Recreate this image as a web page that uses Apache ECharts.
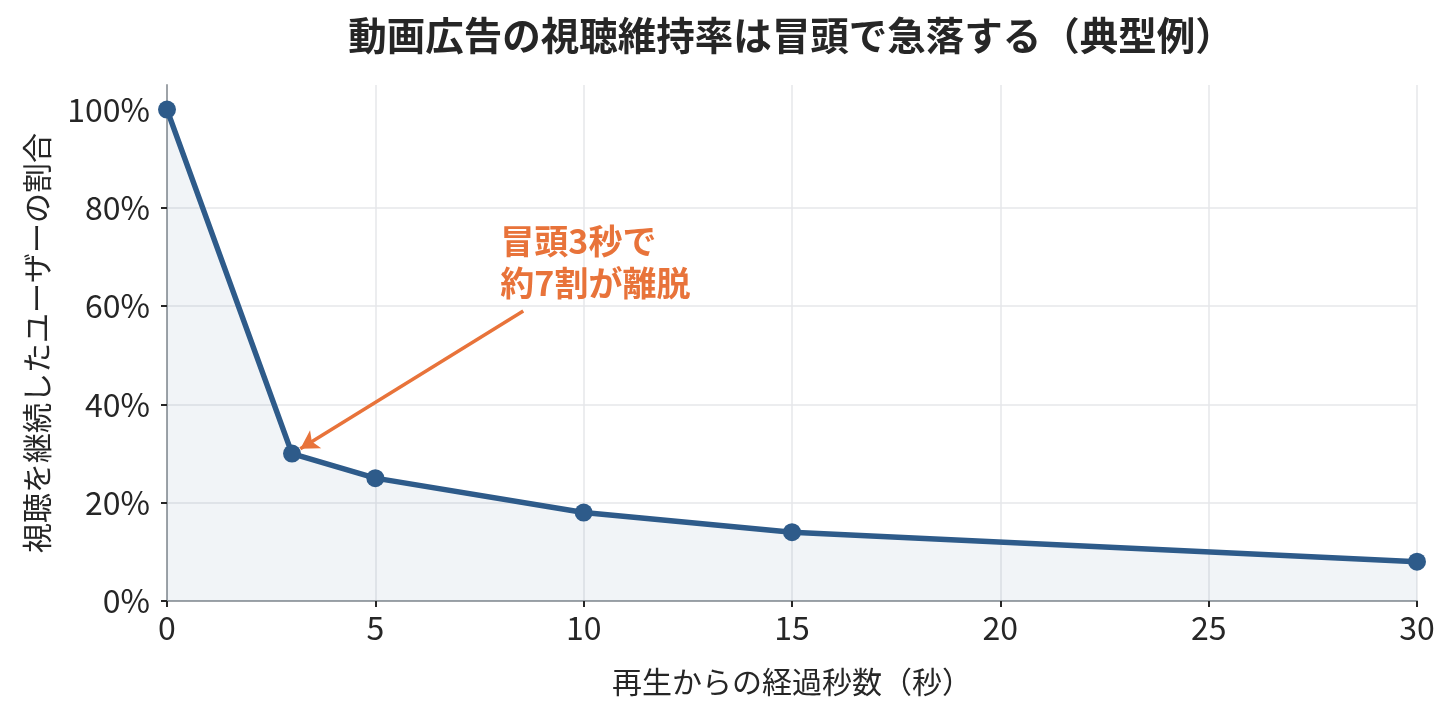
<!DOCTYPE html>
<html><head><meta charset="utf-8">
<script src="https://cdn.jsdelivr.net/npm/echarts@6/dist/echarts.min.js"></script>
<style>html,body{margin:0;padding:0;background:#fff}#c{width:1455px;height:718px}</style>
</head><body><div id="c"></div>
<script>
const seconds = [0, 3, 5, 10, 15, 30];
const retention = [100, 30, 25, 18, 14, 8];
const yTicks = [0, 20, 40, 60, 80, 100];
const xTicks = [0, 5, 10, 15, 20, 25, 30];
const titleText = '動画広告の視聴維持率は冒頭で急落する（典型例）';
const xName = '再生からの経過秒数（秒）';
const yName = '視聴を継続したユーザーの割合';
const noteText = '冒頭3秒で\n約7割が離脱';
const notePos = [8, 69];
const arrowFrom = [8.55, 59];
const arrowTo = [3.2, 31];

const FONT = '"Noto Sans CJK JP", "Noto Sans", sans-serif';
const chart = echarts.init(document.getElementById('c'));
chart.setOption({
  animation: false,
  textStyle: { fontFamily: FONT },
  title: {
    text: titleText, left: 786, top: 11, textAlign: 'center',
    textStyle: { fontFamily: FONT, fontSize: 38.5, fontWeight: 'bold', color: '#262626' }
  },
  grid: { left: 167, right: 38, top: 85, bottom: 117, containLabel: false },
  xAxis: {
    type: 'value', min: 0, max: 30, interval: 5,
    name: xName, nameLocation: 'middle', nameGap: 66,
    nameTextStyle: { fontSize: 30, color: '#262626', fontFamily: FONT },
    axisLine: { show: true, lineStyle: { color: '#9ea3a8', width: 2 } },
    axisTick: { show: true, length: 6, lineStyle: { color: '#262626', width: 2 } },
    axisLabel: { fontSize: 32, color: '#262626', margin: 11, fontFamily: FONT },
    splitLine: { show: true, showMinLine: false, lineStyle: { color: '#e6e7ea', width: 1.5 } }
  },
  yAxis: {
    type: 'value', min: 0, max: 105,
    name: yName, nameLocation: 'middle', nameGap: 115, nameRotate: 90,
    nameTextStyle: { fontSize: 30, color: '#262626', fontFamily: FONT },
    axisLine: { show: true, lineStyle: { color: '#9ea3a8', width: 2 } },
    axisTick: { show: true, length: 6, customValues: yTicks, lineStyle: { color: '#262626', width: 2 } },
    axisLabel: { fontSize: 32, color: '#262626', margin: 17, fontFamily: FONT, customValues: yTicks,
      formatter: v => v + '%' },
    splitLine: { show: true, showMinLine: false, showMaxLine: false, lineStyle: { color: '#e6e7ea', width: 1.5 } }
  },
  series: [{
    type: 'line',
    data: seconds.map((s, i) => [s, retention[i]]),
    symbol: 'circle', symbolSize: 18,
    lineStyle: { color: '#2e5b8a', width: 5.5 },
    itemStyle: { color: '#2e5b8a' },
    areaStyle: { color: 'rgba(46,91,138,0.095)' },
    clip: false,
    z: 3,
    markLine: {
      silent: true, symbol: ['none', 'arrow'], symbolSize: [16, 18],
      lineStyle: { color: '#e8733a', width: 3.5, type: 'solid' },
      label: { show: false },
      data: [[{ coord: arrowFrom }, { coord: arrowTo }]]
    },
    markPoint: {
      silent: true, symbol: 'circle', symbolSize: 0,
      data: [{ coord: notePos, value: 0 }],
      label: {
        show: true, position: 'inside', align: 'left', verticalAlign: 'middle',
        formatter: noteText, color: '#e8733a', fontSize: 34, fontWeight: 'bold',
        lineHeight: 42, fontFamily: FONT
      }
    }
  }]
});
</script></body></html>
